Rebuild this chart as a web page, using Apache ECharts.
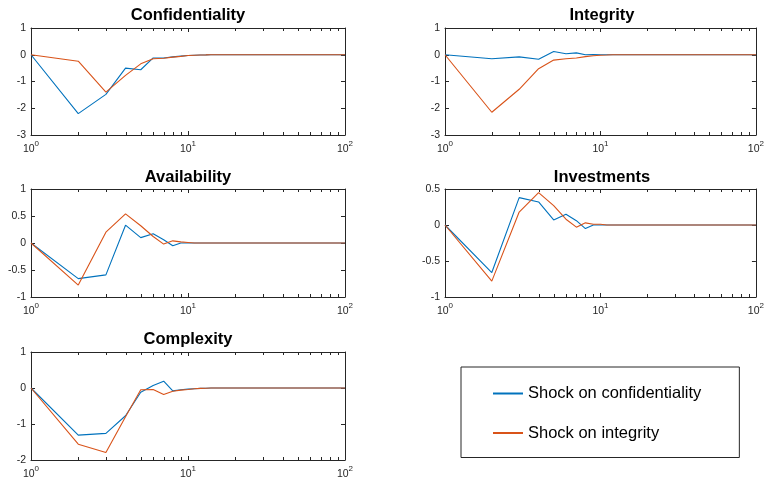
<!DOCTYPE html>
<html>
<head>
<meta charset="utf-8">
<script src="https://cdn.jsdelivr.net/npm/echarts@6/dist/echarts.min.js"></script>
<style>
  html, body { margin: 0; padding: 0; background: #fff; }
  #chart { width: 767px; height: 484px; }
</style>
</head>
<body>
<div id="chart"></div>
<script>
// impulse responses, periods 1..15 then flat to 100
const periods = [1, 2, 3, 4, 5, 6, 7, 8, 9, 10, 11, 12, 13, 14, 15, 100]
const panelTitles = ['Confidentiality', 'Integrity', 'Availability', 'Investments', 'Complexity']
const seriesNames = ['Shock on confidentiality', 'Shock on integrity']

const confOnConf = [0, -2.2, -1.48, -0.5, -0.56, -0.12, -0.12, -0.08, -0.05, -0.03, -0.02, -0.01, -0.005, 0, 0, 0]
const confOnInteg = [0, -0.24, -1.4, -0.77, -0.34, -0.15, -0.13, -0.09, -0.06, -0.03, -0.02, -0.01, -0.005, 0, 0, 0]
const integOnConf = [0, -0.15, -0.08, -0.17, 0.12, 0.04, 0.07, 0.0, 0.01, 0, 0, 0, 0, 0, 0, 0]
const integOnInteg = [0, -2.15, -1.29, -0.52, -0.2, -0.15, -0.12, -0.07, -0.04, -0.02, -0.01, 0, 0, 0, 0, 0]
const availOnConf = [0, -0.66, -0.59, 0.33, 0.1, 0.17, 0.06, -0.05, 0, 0, 0, 0, 0, 0, 0, 0]
const availOnInteg = [0, -0.78, 0.2, 0.54, 0.32, 0.12, -0.02, 0.04, 0.02, 0.01, 0, 0, 0, 0, 0, 0]
const investOnConf = [0, -0.66, 0.38, 0.32, 0.07, 0.15, 0.06, -0.05, 0, 0, 0, 0, 0, 0, 0, 0]
const investOnInteg = [0, -0.78, 0.18, 0.45, 0.27, 0.08, -0.03, 0.03, 0.01, 0.01, 0, 0, 0, 0, 0, 0]
const complOnConf = [0, -1.31, -1.26, -0.77, -0.12, 0.07, 0.19, -0.08, -0.05, -0.03, -0.02, -0.01, -0.005, 0, 0, 0]
const complOnInteg = [0, -1.56, -1.79, -0.8, -0.05, -0.04, -0.18, -0.09, -0.06, -0.04, -0.02, -0.01, -0.005, 0, 0, 0]

const panelData = [
  [confOnConf, confOnInteg],
  [integOnConf, integOnInteg],
  [availOnConf, availOnInteg],
  [investOnConf, investOnInteg],
  [complOnConf, complOnInteg]
]

// y axis ticks per panel: [min, max, step]
const yTicks = [[-3, 1, 1], [-3, 1, 1], [-1, 1, 0.5], [-1, 0.5, 0.5], [-2, 1, 1]]
// log minor tick positions
const minorTicks = [2, 3, 4, 5, 6, 7, 8, 9, 20, 30, 40, 50, 60, 70, 80, 90]

// plot boxes (layout)
const boxes = [
  { left: 31, top: 28, width: 314, height: 107 },
  { left: 445, top: 28, width: 314, height: 107 },
  { left: 31, top: 189, width: 314, height: 108 },
  { left: 445, top: 189, width: 314, height: 108 },
  { left: 31, top: 352, width: 314, height: 108 }
]
const titleTops = [6.5, 6.5, 169, 169, 331]

const colors = ['#0072BD', '#D95319']
const axisColor = '#262626'
const font = '"Liberation Sans", Arial, Helvetica, sans-serif'

const grid = []
const xAxis = []
const yAxis = []
const series = []
const title = []

boxes.forEach((b, i) => {
  grid.push({ left: b.left, top: b.top, width: b.width, height: b.height })
  title.push({
    text: panelTitles[i],
    left: b.left + b.width / 2,
    top: titleTops[i],
    padding: 0,
    textAlign: 'center',
    textStyle: { fontSize: 16.5, fontWeight: 'bold', color: '#000', fontFamily: font }
  })
  const logAxis = (pos, labels) => ({
    type: 'log',
    logBase: 10,
    min: 1,
    max: 100,
    gridIndex: i,
    position: pos,
    axisLine: { show: true, onZero: false, lineStyle: { color: axisColor, width: 1 } },
    axisTick: { show: true, inside: true, length: 4, lineStyle: { color: axisColor } },
    splitLine: { show: false },
    axisLabel: {
      show: labels,
      margin: 5,
      showMinLabel: true,
      showMaxLabel: true,
      formatter: (v) => '{b|10}{s|' + Math.round(Math.log10(v)) + '}',
      rich: {
        b: { fontSize: 10.5, color: axisColor, fontFamily: font, verticalAlign: 'bottom', padding: [4, 0, 0, 0] },
        s: { fontSize: 8, color: axisColor, fontFamily: font, verticalAlign: 'top' }
      }
    }
  })
  xAxis.push(logAxis('bottom', true))
  xAxis.push(logAxis('top', false))
  const [ymin, ymax, step] = yTicks[i]
  const linAxis = (pos, labels) => ({
    type: 'value',
    gridIndex: i,
    position: pos,
    min: ymin,
    max: ymax,
    interval: step,
    axisLine: { show: true, onZero: false, lineStyle: { color: axisColor, width: 1 } },
    axisTick: { show: true, inside: true, length: 4, lineStyle: { color: axisColor } },
    splitLine: { show: false },
    axisLabel: { show: labels, fontSize: 10.5, color: axisColor, fontFamily: font, margin: 5 }
  })
  yAxis.push(linAxis('left', true))
  yAxis.push(linAxis('right', false))

  panelData[i].forEach((vals, k) => {
    series.push({
      name: seriesNames[k],
      type: 'line',
      xAxisIndex: 2 * i,
      yAxisIndex: 2 * i,
      symbol: 'none',
      color: colors[k],
      lineStyle: { width: 1.1, color: colors[k] },
      data: periods.map((p, j) => [p, vals[j]])
    })
  })

  // minor ticks on the log axis, top and bottom
  series.push({
    type: 'custom',
    xAxisIndex: 2 * i,
    yAxisIndex: 2 * i,
    silent: true,
    data: minorTicks.map((t) => [t, 0]),
    renderItem: (params, api) => {
      const x = Math.round(api.coord([api.value(0), 0])[0]) + 0.5
      const cs = params.coordSys
      const st = { stroke: axisColor, lineWidth: 1 }
      return {
        type: 'group',
        children: [
          { type: 'line', shape: { x1: x, y1: cs.y + cs.height, x2: x, y2: cs.y + cs.height - 3 }, style: st },
          { type: 'line', shape: { x1: x, y1: cs.y, x2: x, y2: cs.y + 3 }, style: st }
        ]
      }
    }
  })
})

const myChart = echarts.init(document.getElementById('chart'))
const option = {
  animation: false,
  backgroundColor: '#fff',
  title: title,
  grid: grid,
  xAxis: xAxis,
  yAxis: yAxis,
  legend: {
    data: seriesNames,
    orient: 'vertical',
    left: 461,
    top: 367,
    padding: [18, 38, 16, 32],
    itemGap: 22.5,
    itemWidth: 30,
    itemHeight: 2,
    icon: 'rect',
    borderColor: axisColor,
    borderWidth: 1,
    textStyle: { fontSize: 16.5, color: '#000', fontFamily: font }
  },
  series: series
}
myChart.setOption(option)
</script>
</body>
</html>
